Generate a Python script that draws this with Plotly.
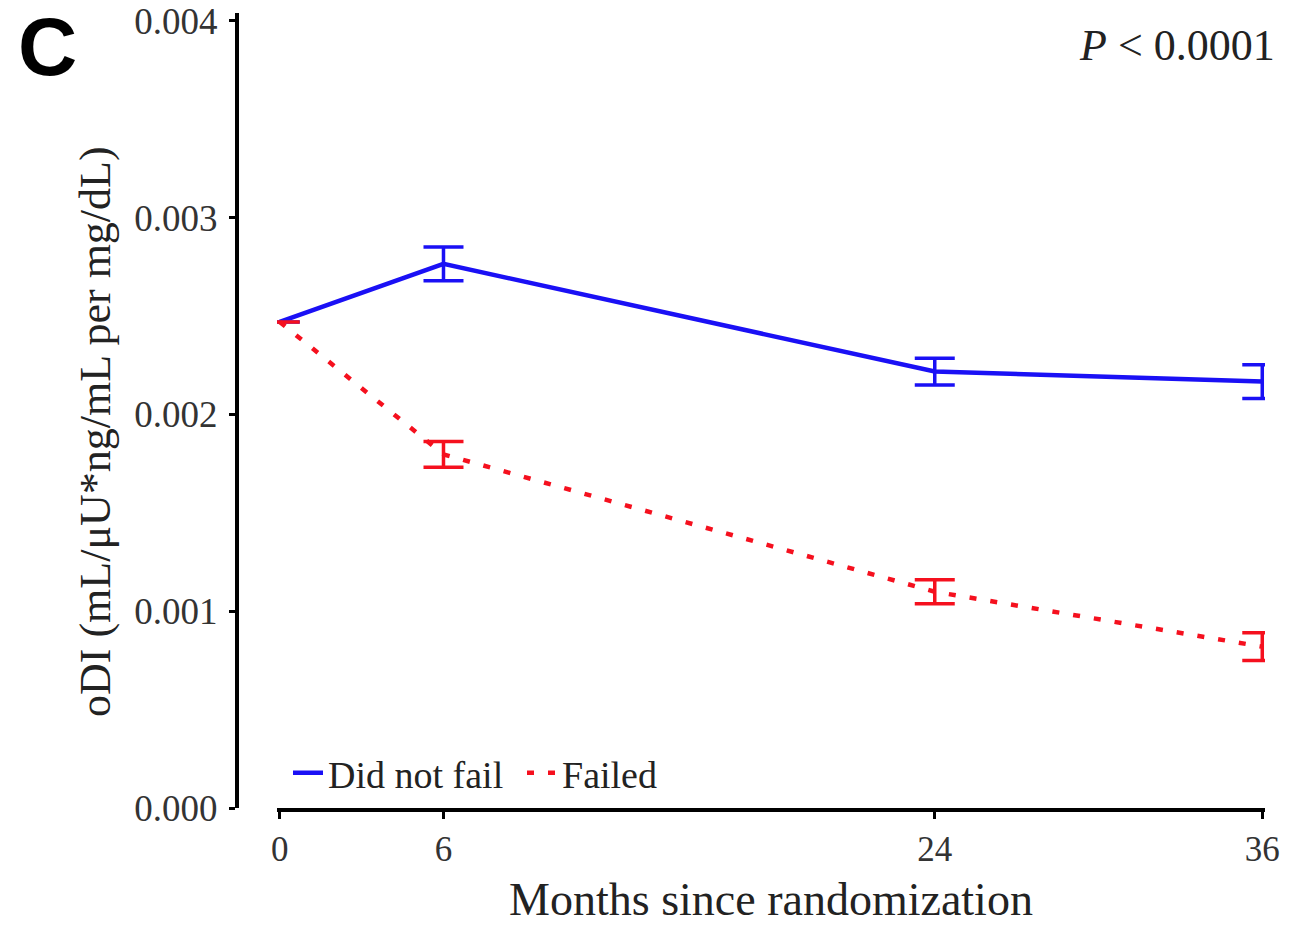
import plotly.graph_objects as go

months = [0, 6, 24, 36]
did_not_fail = [0.00247, 0.002765, 0.002218, 0.002167]
did_not_fail_err = [0.0, 0.000086, 0.000068, 0.000086]
failed = [0.00247, 0.001797, 0.001099, 0.000820]
failed_err = [0.0, 0.000066, 0.000061, 0.000071]
x_ticks = [0, 6, 24, 36]
y_ticks = [0.000, 0.001, 0.002, 0.003, 0.004]
y_tick_text = ["0.000", "0.001", "0.002", "0.003", "0.004"]

BLUE = "#1a10f5"
RED = "#f5101e"
SERIF = "Liberation Serif, Times New Roman, serif"

fig = go.Figure()
fig.add_trace(go.Scatter(
    x=months, y=did_not_fail, mode="lines", name="Did not fail",
    line=dict(color=BLUE, width=4.5),
    error_y=dict(type="data", array=did_not_fail_err, visible=True,
                 color=BLUE, thickness=3.5, width=20),
))
fig.add_trace(go.Scatter(
    x=months, y=failed, mode="lines", name="Failed",
    line=dict(color=RED, width=4.5, dash="7px,14px"),
    error_y=dict(type="data", array=failed_err, visible=True,
                 color=RED, thickness=3.5, width=20),
))

L, R, T, B = 237, 45, 13, 117
W, H = 1310, 925
pw = W - L - R
ph = H - T - B

fig.update_layout(
    width=W, height=H,
    margin=dict(l=L, r=R, t=T, b=B, pad=0, autoexpand=False),
    paper_bgcolor="white", plot_bgcolor="white",
    font=dict(family=SERIF, color="#222222"),
    showlegend=True,
    legend=dict(
        orientation="h", x=(288 - L) / pw, y=(808 - 773) / ph,
        xanchor="left", yanchor="middle",
        font=dict(size=38, family=SERIF, color="#222222"),
        bgcolor="rgba(0,0,0,0)", itemwidth=30, tracegroupgap=0,
        entrywidth=189, entrywidthmode="pixels",
    ),
    xaxis=dict(
        domain=[(277 - L) / pw, 1.0],
        range=[-0.1, 36.1],
        automargin=False,
        tickvals=x_ticks, ticktext=[str(v) for v in x_ticks],
        ticks="outside", ticklen=7, tickwidth=3, tickcolor="black",
        showline=True, linecolor="black", linewidth=4,
        showgrid=False, zeroline=False,
        tickfont=dict(size=35, family=SERIF, color="#333333"),
        title=dict(text="Months since randomization",
                   font=dict(size=46, family=SERIF, color="#222222"),
                   standoff=24),
    ),
    yaxis=dict(
        anchor="free", position=0.0,
        range=[0, 0.00404],
        automargin=False,
        tickvals=y_ticks, ticktext=y_tick_text,
        ticks="outside", ticklen=6, tickwidth=3, tickcolor="black",
        ticklabelstandoff=4,
        showline=True, linecolor="black", linewidth=4,
        showgrid=False, zeroline=False,
        tickfont=dict(size=37, family=SERIF, color="#333333"),
    ),
    annotations=[
        dict(text="oDI (mL/μU*ng/mL per mg/dL)", xref="paper", yref="paper",
             x=-(L - 95) / pw, y=(808 - 432) / ph, xanchor="center", yanchor="middle",
             textangle=-90, showarrow=False,
             font=dict(size=44, family=SERIF, color="#222222")),
        dict(text="<i>P</i> &lt; 0.0001", xref="paper", yref="paper",
             x=1.0, y=1.0, xanchor="right", yanchor="top",
             yshift=-6, xshift=12,
             showarrow=False, font=dict(size=44, family=SERIF, color="#222222")),
        dict(text="<b>C</b>", xref="paper", yref="paper",
             x=-(L - 16) / pw, y=1.0, xanchor="left", yanchor="top",
             yshift=14,
             showarrow=False, font=dict(size=82, family="Liberation Sans, Arial, sans-serif", color="black")),
    ],
)

fig.write_html(
    "out.html",
    config={"displayModeBar": False},
    post_script="document.body.style.margin='0';document.body.style.overflow='hidden';",
)
